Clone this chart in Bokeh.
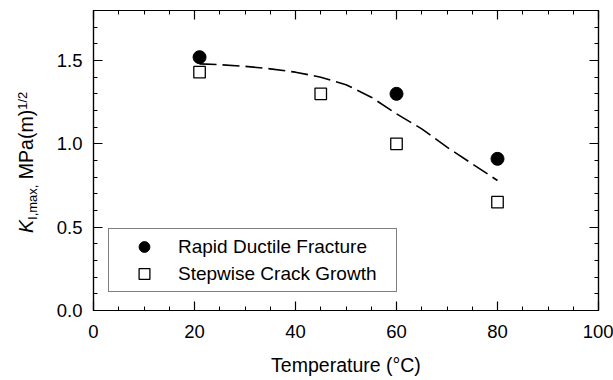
from bokeh.plotting import figure
from bokeh.layouts import row
from bokeh.models import (Range1d, LinearAxis, SingleIntervalTicker, Legend, LegendItem,
                          CustomJSTickFormatter, NumeralTickFormatter, Div)
from bokeh.embed import file_html
from bokeh.resources import INLINE

# Data
rapid_temp = [21, 60, 80]
rapid_k = [1.52, 1.30, 0.91]
step_temp = [21, 45, 60, 80]
step_k = [1.43, 1.30, 1.00, 0.65]
fit_temp = [21, 25, 30, 35, 40, 45, 50, 55, 60, 65, 70, 75, 80]
fit_k = [1.48, 1.475, 1.465, 1.45, 1.43, 1.40, 1.355, 1.28, 1.18, 1.09, 0.98, 0.88, 0.78]

x_label = "Temperature (°C)"
y_label_main = "K"
y_label_sub = "I,max,"
y_label_rest = " MPa(m)"
y_label_sup = "1/2"
legend_labels = ["Rapid Ductile Fracture", "Stepwise Crack Growth"]

FONT = "Liberation Sans"
LW = 50  # width of the strip holding the y-axis title

p = figure(width=613 - LW, height=380, output_backend="svg", toolbar_location=None,
           x_range=Range1d(0, 100), y_range=Range1d(0, 1.8),
           min_border_left=93 - LW, min_border_right=15, min_border_top=10,
           min_border_bottom=70, x_axis_type=None, y_axis_type=None)
p.background_fill_color = "white"
p.border_fill_color = "white"
p.outline_line_color = "black"
p.outline_line_width = 1.2
p.xgrid.visible = False
p.ygrid.visible = False

def style_axis(ax, labels=True):
    ax.axis_line_color = "black"
    ax.axis_line_width = 1.2
    ax.major_tick_in = 9
    ax.major_tick_out = 0
    ax.minor_tick_in = 4
    ax.minor_tick_out = 0
    ax.major_tick_line_color = "black"
    ax.minor_tick_line_color = "black"
    ax.major_tick_line_width = 1.2
    ax.minor_tick_line_width = 1.0
    ax.major_label_text_font = FONT
    ax.major_label_text_font_size = "18.5px"
    ax.major_label_text_color = "black"
    if not labels:
        ax.formatter = CustomJSTickFormatter(code="return ''")
        ax.major_label_standoff = 0
        ax.major_label_text_font_size = "1px"

xt = lambda: SingleIntervalTicker(interval=20, num_minor_ticks=4)
yt = lambda: SingleIntervalTicker(interval=0.5, num_minor_ticks=5)

xb = LinearAxis(ticker=xt())
style_axis(xb)
xb.major_label_standoff = 14
xb.axis_label = x_label
xb.axis_label_text_font = FONT
xb.axis_label_text_font_size = "19.5px"
xb.axis_label_text_font_style = "normal"
xb.axis_label_text_color = "black"
xb.axis_label_standoff = 13
p.add_layout(xb, "below")

yl = LinearAxis(ticker=yt(), formatter=NumeralTickFormatter(format="0.0"))
style_axis(yl)
yl.major_label_standoff = 11
p.add_layout(yl, "left")

xa = LinearAxis(ticker=xt())
style_axis(xa, labels=False)
p.add_layout(xa, "above")

yr = LinearAxis(ticker=yt())
style_axis(yr, labels=False)
p.add_layout(yr, "right")

# fit curve
p.line(fit_temp, fit_k, line_color="black", line_width=1.6, line_dash="17 6")

r1 = p.scatter(rapid_temp, rapid_k, marker="circle", size=13,
               fill_color="black", line_color="black")
r2 = p.scatter(step_temp, step_k, marker="square", size=11.5,
               fill_color="white", line_color="black", line_width=1.3)

legend = Legend(items=[LegendItem(label=legend_labels[0], renderers=[r1]),
                       LegendItem(label=legend_labels[1], renderers=[r2])],
                location=(15, 18), padding=4, spacing=0,
                glyph_width=62, glyph_height=27, label_height=27, label_width=214,
                label_standoff=3, label_text_font=FONT, label_text_font_size="19px",
                label_text_baseline="middle", label_text_color="black",
                border_line_color="black", border_line_width=1.2,
                background_fill_color="white", background_fill_alpha=1.0, margin=0)
p.add_layout(legend, "center")

# Rotated y-axis title with italic K, subscript and superscript (HTML strip)
title_html = (
    f'<div style="position:relative;width:{LW}px;height:380px;background:white;">'
    '<div style="position:absolute;left:17px;top:233px;transform-origin:0 0;'
    'transform:rotate(-90deg);white-space:nowrap;line-height:1;'
    f"font-family:'{FONT}';font-size:19.5px;color:black;\">"
    f'<i>{y_label_main}</i>'
    f'<span style="font-size:13px;position:relative;top:4px;">{y_label_sub}</span>'
    f'{y_label_rest.replace(" ", "&nbsp;", 1)}'
    f'<span style="font-size:13px;position:relative;top:-6px;">{y_label_sup}</span>'
    '</div></div>'
)
strip = Div(text=title_html, width=LW, height=380, margin=0)

layout = row(strip, p)
open("out.html", "w").write(file_html(layout, INLINE))
